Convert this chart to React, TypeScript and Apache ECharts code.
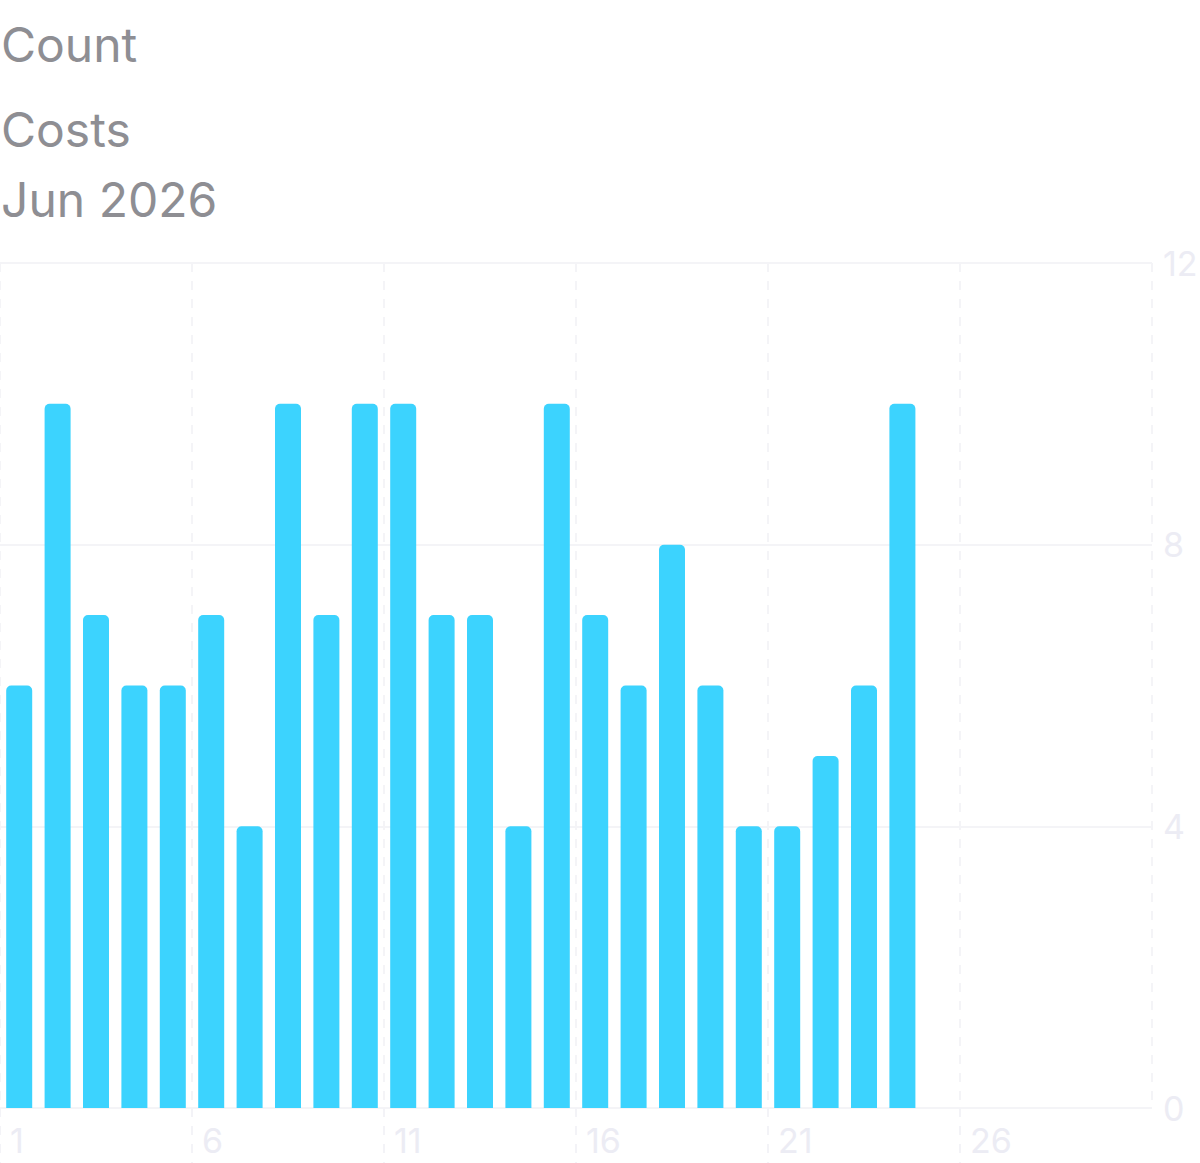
import React, { useEffect, useRef } from "react";
import * as echarts from "echarts";

const days = [1, 2, 3, 4, 5, 6, 7, 8, 9, 10, 11, 12, 13, 14, 15, 16, 17, 18, 19, 20, 21, 22, 23, 24];
const counts = [6, 10, 7, 6, 6, 7, 4, 10, 7, 10, 10, 7, 7, 4, 10, 7, 6, 8, 6, 4, 4, 5, 6, 10];
const titleLines = ["Count", "Costs", "Jun 2026"];
const yTicks = [0, 4, 8, 12];
const daysInMonth = 30;

export default function App() {
  const ref = useRef<HTMLDivElement>(null);
  useEffect(() => {
    document.body.style.margin = "0";
    const chart = echarts.init(ref.current!, null, { renderer: "svg" });
    const font = "Inter, 'Noto Sans', Roboto, sans-serif";
    chart.setOption({
      animation: false,
      backgroundColor: "#ffffff",
      title: titleLines.map((t, i) => ({
        text: t,
        left: 1,
        top: [20, 105, 175][i],
        padding: 0,
        textStyle: { color: "#8e8e93", fontSize: 48, fontWeight: 400, fontFamily: font },
      })),
      grid: {
        left: 0,
        right: 48,
        top: 263,
        bottom: 55,
        containLabel: false,
        outerBoundsMode: "none",
      },
      xAxis: {
        type: "value",
        min: 0,
        max: daysInMonth,
        interval: 5,
        axisLine: { show: false },
        axisTick: {
          show: true,
          length: 55,
          lineStyle: { color: "#f3f3f7", width: 2, type: [9, 9] },
        },
        splitLine: {
          show: true,
          lineStyle: { color: "#f4f4f7", width: 2, type: [9, 9] },
        },
        axisLabel: {
          color: "#ececf4",
          fontSize: 34,
          fontFamily: font,
          align: "left",
          margin: 15,
          padding: [0, 0, 0, 10],
          showMaxLabel: false,
          formatter: (v: number) => (v >= daysInMonth ? "" : String(v + 1)),
        },
      },
      yAxis: {
        type: "value",
        position: "right",
        min: yTicks[0],
        max: yTicks[yTicks.length - 1],
        interval: 4,
        axisLine: { show: false },
        axisTick: { show: false },
        splitLine: { show: true, lineStyle: { color: "#f4f4f7", width: 2 } },
        axisLabel: {
          color: "#ececf4",
          fontSize: 34,
          fontFamily: font,
          align: "left",
          margin: 11,
        },
      },
      series: [
        {
          type: "bar",
          data: days.map((d, i) => [d - 0.5, counts[i]]),
          barWidth: 26,
          itemStyle: { color: "#3cd3fe", borderRadius: [5, 5, 0, 0] },
        },
      ],
    });
    return () => chart.dispose();
  }, []);
  return <div ref={ref} style={{ width: 1200, height: 1163 }} />;
}
